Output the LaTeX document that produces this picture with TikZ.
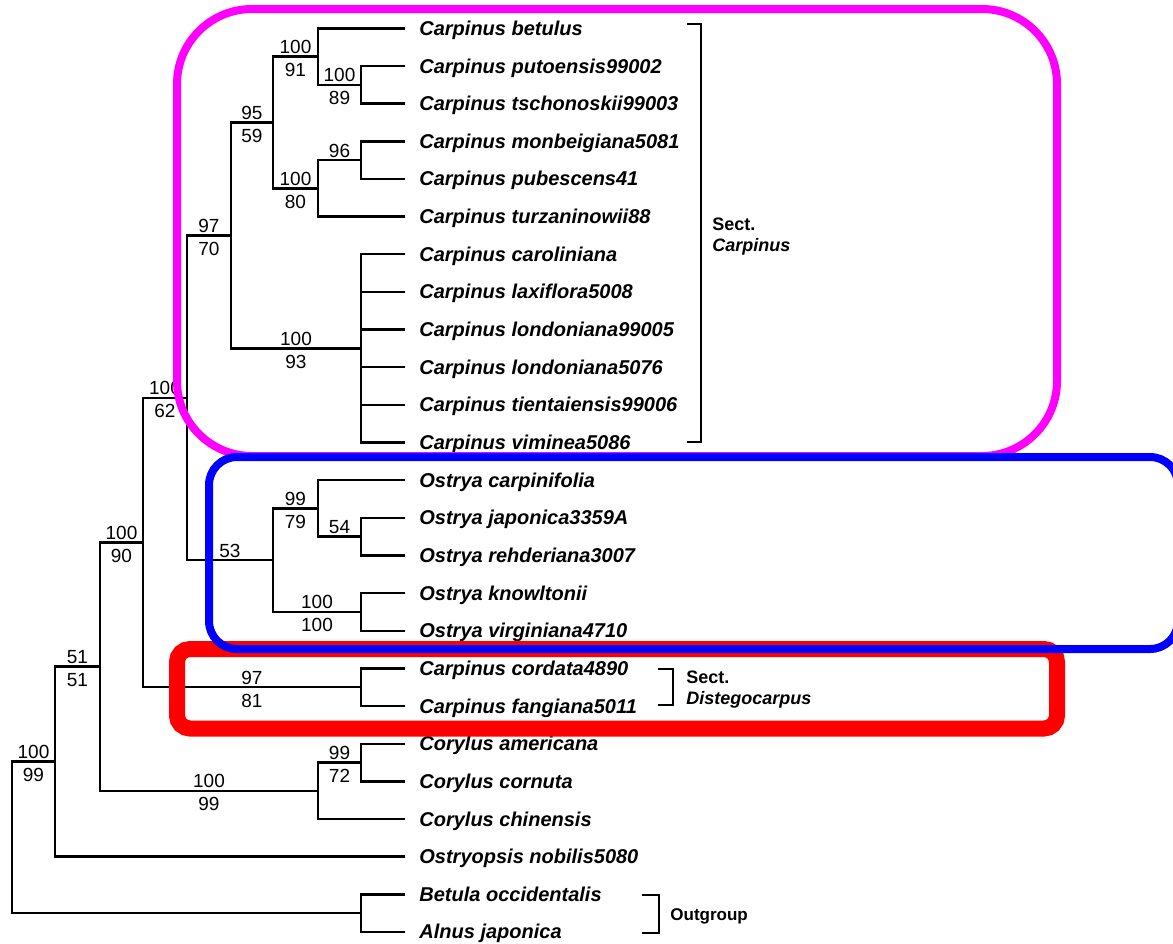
\documentclass[tikz,border=0pt]{standalone}
\usepackage{fontspec}
\setmainfont{Liberation Sans}
\usetikzlibrary{positioning}
\definecolor{frmag}{RGB}{255,0,255}
\definecolor{frblue}{RGB}{0,0,255}
\definecolor{frred}{RGB}{255,0,0}

\begin{document}
\begin{tikzpicture}[x=0.5pt, y=-0.5pt,
        br/.style={draw, line width=1.2pt},
        leaf/.style={anchor=base west, inner xsep=7pt, yshift=-3.5pt, font=\fontsize{10}{12}\selectfont\bfseries\itshape},
        bsup/.style={pos=0.75, anchor=base, yshift=1.5pt, inner sep=0pt, font=\fontsize{9.5}{11}\selectfont},
        bsdn/.style={pos=0.75, anchor=base, yshift=-10pt, inner sep=0pt, font=\fontsize{9.5}{11}\selectfont},
        sect/.style={anchor=base west, inner sep=0pt, font=\fontsize{9}{11}\selectfont\bfseries},
        sectit/.style={sect, font=\fontsize{9}{11}\selectfont\bfseries\itshape},
        brk/.style={draw, line width=1pt},
        frame/.style={line width=4pt},
    ]
        \useasboundingbox (0,0) rectangle (1173,943);

        % Leaf tips
        \coordinate (t1) at (405,28.3);
        \coordinate (t2) at (405,66);
        \coordinate (t3) at (405,103.6);
        \coordinate (t4) at (405,141.3);
        \coordinate (t5) at (405,178.9);
        \coordinate (t6) at (405,216.6);
        \coordinate (t7) at (405,254.2);
        \coordinate (t8) at (405,291.9);
        \coordinate (t9) at (405,329.5);
        \coordinate (t10) at (405,367.2);
        \coordinate (t11) at (405,404.8);
        \coordinate (t12) at (405,442.5);
        \coordinate (t13) at (405,480.1);
        \coordinate (t14) at (405,517.8);
        \coordinate (t15) at (405,555.4);
        \coordinate (t16) at (405,593.1);
        \coordinate (t17) at (405,630.7);
        \coordinate (t18) at (405,668.4);
        \coordinate (t19) at (405,706);
        \coordinate (t20) at (405,743.7);
        \coordinate (t21) at (405,781.3);
        \coordinate (t22) at (405,819);
        \coordinate (t23) at (405,856.6);
        \coordinate (t24) at (405,894.3);
        \coordinate (t25) at (405,931.9);

        % Internal nodes
        \coordinate (nPT) at (361,84.8);
        \coordinate (nBet) at (318,56.5);
        \coordinate (nMP) at (361,160.1);
        \coordinate (nMPT) at (318,188.3);
        \coordinate (nCa) at (273,122.4);
        \coordinate (nPoly) at (361,348.3);
        \coordinate (nCarp) at (231,235.4);
        \coordinate (nJR) at (361,536.6);
        \coordinate (nOC) at (318,508.4);
        \coordinate (nKV) at (361,611.9);
        \coordinate (nOst) at (273,560.1);
        \coordinate (nCO) at (187,397.8);
        \coordinate (nDis) at (361,687.2);
        \coordinate (nCOD) at (143,542.5);
        \coordinate (nAC) at (361,762.5);
        \coordinate (nCor) at (318,790.7);
        \coordinate (nIng) at (100,666.6);
        \coordinate (nOpsis) at (55,761.6);
        \coordinate (nOut) at (361,913.1);
        \coordinate (root) at (12,837.4);

        % Sect. Carpinus
        \draw[br] (nPT) |- (t2);
        \draw[br] (nPT) |- (t3);
        \draw[br] (nBet) |- (t1);
        \draw[br] (nBet) |- (nPT) node[bsup]{100} node[bsdn]{89};
        \draw[br] (nMP) |- (t4);
        \draw[br] (nMP) |- (t5);
        \draw[br] (nMPT) |- (nMP) node[bsup]{96};
        \draw[br] (nMPT) |- (t6);
        \draw[br] (nCa) |- (nBet) node[bsup]{100} node[bsdn]{91};
        \draw[br] (nCa) |- (nMPT) node[bsup]{100} node[bsdn]{80};
        \draw[br] (nPoly) |- (t7);
        \draw[br] (nPoly) |- (t8);
        \draw[br] (nPoly) |- (t9);
        \draw[br] (nPoly) |- (t10);
        \draw[br] (nPoly) |- (t11);
        \draw[br] (nPoly) |- (t12);
        \draw[br] (nCarp) |- (nCa) node[bsup]{95} node[bsdn]{59};
        \draw[br] (nCarp) |- (nPoly) node[bsup]{100} node[bsdn]{93};

        % Ostrya
        \draw[br] (nJR) |- (t14);
        \draw[br] (nJR) |- (t15);
        \draw[br] (nOC) |- (t13);
        \draw[br] (nOC) |- (nJR) node[bsup]{54};
        \draw[br] (nKV) |- (t16);
        \draw[br] (nKV) |- (t17);
        \draw[br] (nOst) |- (nOC) node[bsup]{99} node[bsdn]{79};
        \draw[br] (nOst) |- (nKV) node[bsup]{100} node[bsdn]{100};
        \draw[br] (nCO) |- (nCarp) node[bsup]{97} node[bsdn]{70};
        \draw[br] (nCO) |- (nOst) node[bsup]{53};

        % Sect. Distegocarpus
        \draw[br] (nDis) |- (t18);
        \draw[br] (nDis) |- (t19);
        \draw[br] (nCOD) |- (nCO) node[bsup]{100} node[bsdn]{62};
        \draw[br] (nCOD) |- (nDis) node[bsup]{97} node[bsdn]{81};

        % Corylus
        \draw[br] (nAC) |- (t20);
        \draw[br] (nAC) |- (t21);
        \draw[br] (nCor) |- (nAC) node[bsup]{99} node[bsdn]{72};
        \draw[br] (nCor) |- (t22);
        \draw[br] (nIng) |- (nCOD) node[bsup]{100} node[bsdn]{90};
        \draw[br] (nIng) |- (nCor) node[bsup]{100} node[bsdn]{99};
        \draw[br] (nOpsis) |- (nIng) node[bsup]{51} node[bsdn]{51};
        \draw[br] (nOpsis) |- (t23);

        % Outgroup and root
        \draw[br] (nOut) |- (t24);
        \draw[br] (nOut) |- (t25);
        \draw[br] (root) |- (nOpsis) node[bsup]{100} node[bsdn]{99};
        \draw[br] (root) |- (nOut);

        % Taxa
        \node[leaf] (cbet) at (t1) {Carpinus betulus};
        \node[leaf] (cput) at (t2) {Carpinus putoensis99002};
        \node[leaf] (ctsc) at (t3) {Carpinus tschonoskii99003};
        \node[leaf] (cmon) at (t4) {Carpinus monbeigiana5081};
        \node[leaf] (cpub) at (t5) {Carpinus pubescens41};
        \node[leaf] (ctur) at (t6) {Carpinus turzaninowii88};
        \node[leaf] (ccar) at (t7) {Carpinus caroliniana};
        \node[leaf] (clax) at (t8) {Carpinus laxiflora5008};
        \node[leaf] (clonA) at (t9) {Carpinus londoniana99005};
        \node[leaf] (clonB) at (t10) {Carpinus londoniana5076};
        \node[leaf] (ctie) at (t11) {Carpinus tientaiensis99006};
        \node[leaf] (cvim) at (t12) {Carpinus viminea5086};
        \node[leaf] (ocar) at (t13) {Ostrya carpinifolia};
        \node[leaf] (ojap) at (t14) {Ostrya japonica3359A};
        \node[leaf] (oreh) at (t15) {Ostrya rehderiana3007};
        \node[leaf] (okno) at (t16) {Ostrya knowltonii};
        \node[leaf] (ovir) at (t17) {Ostrya virginiana4710};
        \node[leaf] (ccor) at (t18) {Carpinus cordata4890};
        \node[leaf] (cfan) at (t19) {Carpinus fangiana5011};
        \node[leaf] (yame) at (t20) {Corylus americana};
        \node[leaf] (ycor) at (t21) {Corylus cornuta};
        \node[leaf] (ychi) at (t22) {Corylus chinensis};
        \node[leaf] (onob) at (t23) {Ostryopsis nobilis5080};
        \node[leaf] (bocc) at (t24) {Betula occidentalis};
        \node[leaf] (ajap) at (t25) {Alnus japonica};

        % Brackets
        \draw[brk] (687,24) -- (701,24) -- (701,442) -- (687,442);
        \draw[brk] (658,669) -- (673,669) -- (673,705) -- (658,705);
        \draw[brk] (642,895) -- (659,895) -- (659,933) -- (642,933);
        \node[sect] (sectA) at (712,230) {Sect.};
        \node[sectit] (sectAname) at (712,251) {Carpinus};
        \node[sect] (sectB) at (686,683) {Sect.};
        \node[sectit] (sectBname) at (686,704) {Distegocarpus};
        \node[sect, font=\fontsize{8.5}{10}\selectfont\bfseries] (outg) at (670,920) {Outgroup};

        % Frames
        \draw[frred, line width=8pt, rounded corners=6.5pt] (177,649) rectangle (1057,728.5);
        \draw[frmag, frame, rounded corners=37.5pt] (177,9) rectangle (1057,456);
        \draw[frblue, frame, rounded corners=14pt] (209,457) rectangle (1178,649);
    \end{tikzpicture}
\end{document}
